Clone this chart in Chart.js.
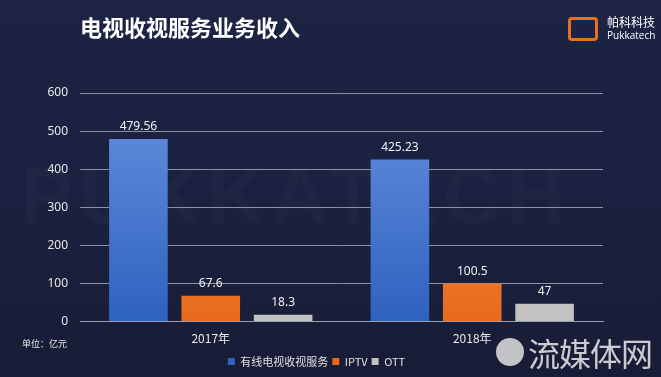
<!DOCTYPE html>
<html><head><meta charset="utf-8">
<script src="https://cdn.jsdelivr.net/npm/chart.js@4/dist/chart.umd.min.js"></script>
<style>
html,body{margin:0;padding:0;}
body{width:661px;height:377px;overflow:hidden;background:linear-gradient(180deg,#1d2443 0%,#1b2140 50%,#181c36 100%);position:relative;font-family:"Noto Sans CJK SC","Noto Sans",sans-serif;}
#wrap{position:absolute;left:0;top:0;width:661px;height:377px;}
.title{position:absolute;left:80px;top:11px;color:#fff;font-size:22px;font-weight:bold;line-height:30px;}
.logo{position:absolute;left:568px;top:17px;width:30px;height:24px;border:3px solid #e5701f;border-radius:4px;box-sizing:border-box;}
.lt1{position:absolute;left:607px;top:14px;color:#fff;font-size:12px;line-height:16px;}
.lt2{position:absolute;left:607px;top:29px;color:#fff;font-size:10px;line-height:12px;font-family:"Open Sans",sans-serif;}
.unit{position:absolute;left:22px;top:337px;color:#e8e8e8;font-size:9px;line-height:14px;}
.wm{position:absolute;left:528px;top:332px;color:rgba(235,235,235,0.85);font-size:32px;line-height:40px;letter-spacing:-1px;}
.wmc{position:absolute;left:496px;top:338px;width:28px;height:28px;border-radius:50%;background:rgba(225,225,225,0.85);}
.bg{position:absolute;left:20px;top:150px;color:rgba(255,255,255,0.018);font-size:80px;font-weight:bold;letter-spacing:6px;font-family:"Liberation Sans",sans-serif;}
</style></head>
<body>
<div class="bg">PUKKATECH</div>
<div id="wrap"><canvas id="c" width="661" height="377"></canvas></div>
<div class="title">电视收视服务业务收入</div>
<div class="logo"></div>
<div class="lt1">帕科科技</div>
<div class="lt2">Pukkatech</div>
<div class="unit">单位：亿元</div>
<div class="wmc"></div>
<div class="wm">流媒体网</div>
<script>
const categories = ["2017年", "2018年"];
const seriesNames = ["有线电视收视服务", "IPTV", "OTT"];
const cableTV = [479.56, 425.23];
const iptv = [67.6, 100.5];
const ott = [18.3, 47];
const yTicks = [0, 100, 200, 300, 400, 500, 600];

const ctx = document.getElementById('c').getContext('2d');
function grad(c1, c2) {
  return function(context) {
    const chart = context.chart;
    const a = chart.chartArea;
    if (!a) return c2;
    const g = chart.ctx.createLinearGradient(0, a.top + 40, 0, a.bottom);
    g.addColorStop(0, c1); g.addColorStop(1, c2);
    return g;
  };
}
const labelPlugin = {
  id: 'vals',
  afterDatasetsDraw(chart) {
    const c = chart.ctx;
    c.save();
    c.fillStyle = '#f0f0f0';
    c.font = '12px "Noto Sans", sans-serif';
    c.textAlign = 'center';
    c.textBaseline = 'bottom';
    chart.data.datasets.forEach((ds, i) => {
      chart.getDatasetMeta(i).data.forEach((bar, j) => {
        c.fillText(String(ds.data[j]), bar.x, bar.y - 6);
      });
    });
    c.restore();
  }
};
new Chart(ctx, {
  type: 'bar',
  data: {
    labels: categories,
    datasets: [
      { label: seriesNames[0], data: cableTV, backgroundColor: grad('#5c88d8', '#2e62c0') },
      { label: seriesNames[1], data: iptv, backgroundColor: grad('#f59a50', '#e8691c') },
      { label: seriesNames[2], data: ott, backgroundColor: '#c2c2c2' }
    ]
  },
  options: {
    responsive: false,
    animation: false,
    devicePixelRatio: 1,
    layout: { padding: { left: 30, right: 58, top: 93, bottom: 0 } },
    barPercentage: 0.81,
    categoryPercentage: 0.83,
    plugins: {
      legend: {
        position: 'bottom',
        labels: { color: '#e0e0e0', boxWidth: 7, boxHeight: 7, padding: 4, font: { size: 11, family: '"Noto Sans CJK SC", sans-serif' } }
      },
      tooltip: { enabled: false }
    },
    scales: {
      x: {
        afterFit(s) { s.height = s.height + 4; },
        grid: { display: false },
        border: { color: '#9a9eb0', width: 1 },
        ticks: { color: '#e8e8e8', font: { size: 12, family: '"Noto Sans CJK SC", sans-serif' }, padding: 2 }
      },
      y: {
        min: 0, max: 600,
        afterFit(s) { s.width = 50; },
        afterBuildTicks(s) { s.ticks = yTicks.map(v => ({ value: v })); },
        grid: { color: '#8d91a3', lineWidth: 1, drawTicks: false },
        border: { display: false },
        ticks: { color: '#e8e8e8', font: { size: 12, family: '"Noto Sans", sans-serif' }, padding: 12 }
      }
    }
  },
  plugins: [labelPlugin]
});
</script>
</body></html>
